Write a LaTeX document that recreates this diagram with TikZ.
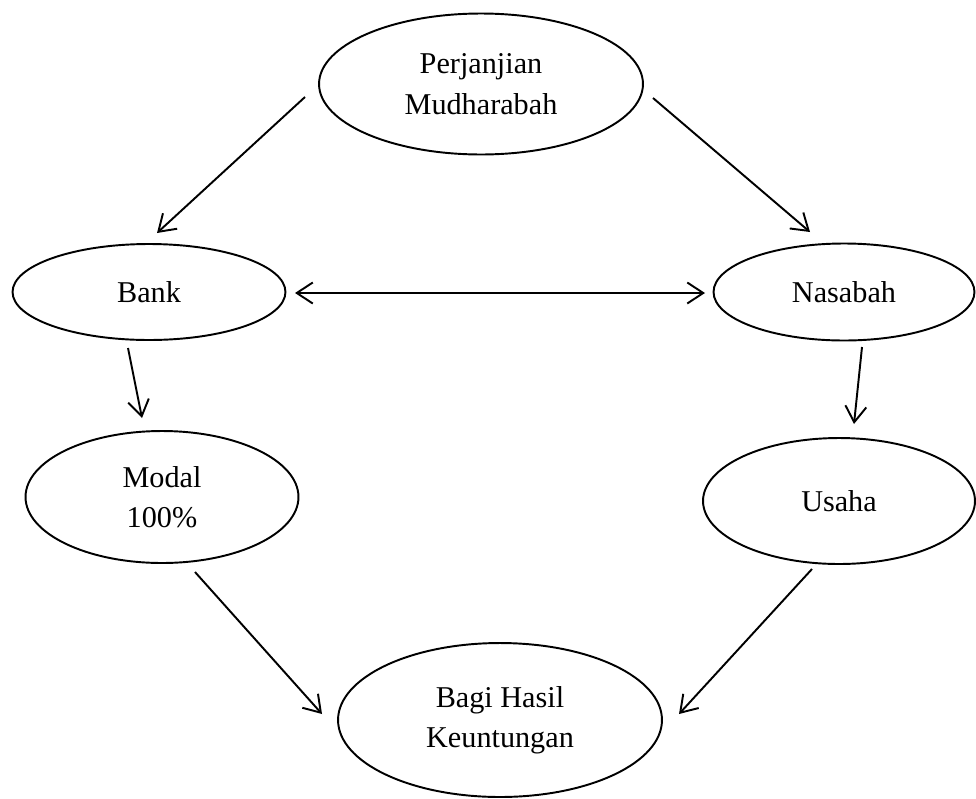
\documentclass[tikz,border=0pt]{standalone}
\usepackage{fontspec}
\setmainfont{Liberation Serif}
\usetikzlibrary{shapes.geometric,arrows.meta}

\begin{document}
\begin{tikzpicture}[x=0.02cm,y=-0.02cm,
    oval/.style={draw,ellipse,line width=1.1pt,inner sep=0pt,align=center,
      font=\fontsize{17.2}{23}\selectfont},
    flow/.style={-{Straight Barb[length=0.32cm,width=0.42cm]},line width=1.1pt}]
      \useasboundingbox (0,0) rectangle (976,798);
      \node[oval,minimum width=6.48cm,minimum height=2.82cm] (akad) at (481,84) {Perjanjian\\Mudharabah};
      \node[oval,minimum width=5.46cm,minimum height=1.92cm] (bank) at (149,292) {Bank};
      \node[oval,minimum width=5.22cm,minimum height=1.94cm] (nasabah) at (844,292) {Nasabah};
      \node[oval,minimum width=5.46cm,minimum height=2.64cm] (modal) at (162,497) {Modal\\100\%};
      \node[oval,minimum width=5.44cm,minimum height=2.52cm] (usaha) at (839,501) {Usaha};
      \node[oval,minimum width=6.48cm,minimum height=3.08cm] (hasil) at (500,720) {Bagi Hasil\\Keuntungan};
      % ujung panah
      \coordinate (akad-l) at (305,97);   \coordinate (bank-t) at (157,233);
      \coordinate (akad-r) at (653,98);   \coordinate (nasabah-t) at (810,232);
      \coordinate (bank-r) at (295,293);  \coordinate (nasabah-l) at (705,293);
      \coordinate (bank-b) at (128,348);  \coordinate (modal-t) at (142,418);
      \coordinate (nasabah-b) at (862,347); \coordinate (usaha-t) at (854,424);
      \coordinate (modal-b) at (195,572); \coordinate (hasil-l) at (322,714);
      \coordinate (usaha-b) at (812,569); \coordinate (hasil-r) at (679,714);
      \draw[flow] (akad-l) -- (bank-t);
      \draw[flow] (akad-r) -- (nasabah-t);
      \draw[flow,{Straight Barb[length=0.32cm,width=0.42cm]}-{Straight Barb[length=0.32cm,width=0.42cm]}] (bank-r) -- (nasabah-l);
      \draw[flow] (bank-b) -- (modal-t);
      \draw[flow] (nasabah-b) -- (usaha-t);
      \draw[flow] (modal-b) -- (hasil-l);
      \draw[flow] (usaha-b) -- (hasil-r);
    \end{tikzpicture}
\end{document}
